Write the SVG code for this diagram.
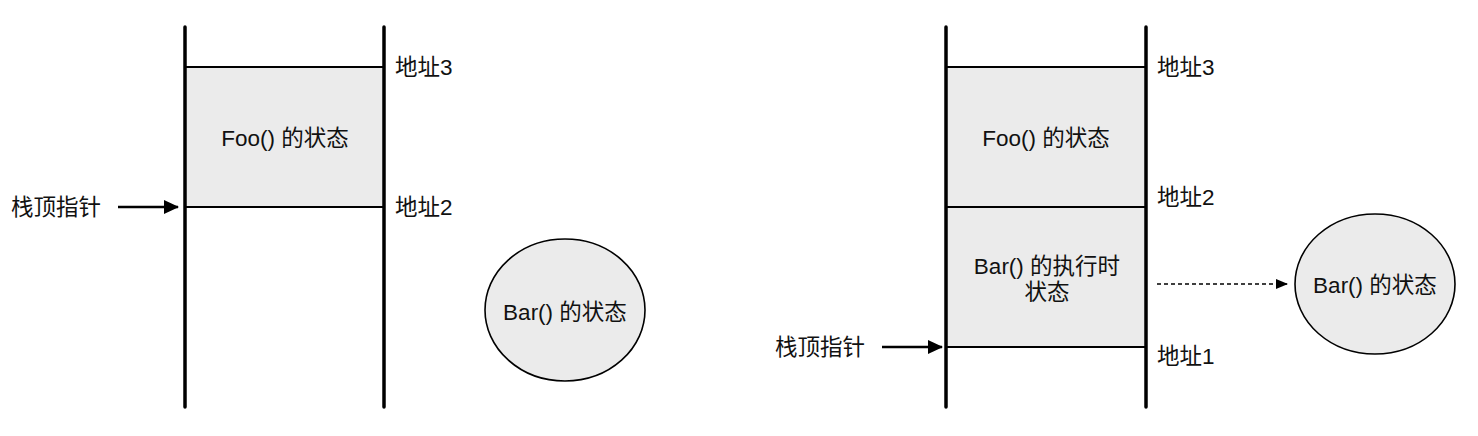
<svg xmlns="http://www.w3.org/2000/svg" width="1478" height="436" viewBox="0 0 1478 436">
<style>
text{font-family:"Liberation Sans","Noto Sans CJK SC",sans-serif;font-size:22.5px;fill:#111;dominant-baseline:central}
.mid{text-anchor:middle}
.cell{fill:#ebebeb;stroke:none}
.wall{stroke:#000;stroke-width:3.5;stroke-linecap:round;fill:none}
.hl{stroke:#000;stroke-width:2;fill:none}
.blob{fill:#ebebeb;stroke:#000;stroke-width:1.6}
.arrow{stroke:#000;stroke-width:2.5;fill:none}
.dash{stroke:#000;stroke-width:1.5;stroke-dasharray:4 3;fill:none}
</style>
<defs>
<marker id="ah" viewBox="0 0 15 14" refX="14" refY="7" markerWidth="15" markerHeight="14" markerUnits="userSpaceOnUse" orient="auto"><path d="M0,0 L15,7 L0,14 Z" fill="#000"/></marker>
<marker id="ah2" viewBox="0 0 12 10" refX="11" refY="5" markerWidth="12" markerHeight="10" markerUnits="userSpaceOnUse" orient="auto"><path d="M0,0 L12,5 L0,10 Z" fill="#000"/></marker>
</defs>
<g id="stack-left">
<rect class="cell" x="185" y="67" width="199" height="140"/>
<line class="hl" x1="185" y1="67" x2="384" y2="67"/>
<line class="hl" x1="185" y1="207" x2="384" y2="207"/>
<line class="wall" x1="185" y1="27" x2="185" y2="407"/>
<line class="wall" x1="384" y1="27" x2="384" y2="407"/>
<text class="mid" x="285" y="138">Foo() 的状态</text>
<text x="395" y="67">地址3</text>
<text x="395" y="207">地址2</text>
</g>
<g id="sp-left"><text x="11" y="207">栈顶指针</text></g>
<g id="bar-left">
<ellipse class="blob" cx="565" cy="310" rx="80" ry="71"/>
<text class="mid" x="565" y="312">Bar() 的状态</text>
</g>
<g id="stack-right">
<rect class="cell" x="946" y="67" width="200" height="280"/>
<line class="hl" x1="946" y1="67" x2="1146" y2="67"/>
<line class="hl" x1="946" y1="207" x2="1146" y2="207"/>
<line class="hl" x1="946" y1="347" x2="1146" y2="347"/>
<line class="wall" x1="946" y1="27" x2="946" y2="407"/>
<line class="wall" x1="1146" y1="27" x2="1146" y2="407"/>
<text class="mid" x="1046" y="138">Foo() 的状态</text>
<text class="mid" x="1047" y="266">Bar() 的执行时</text>
<text class="mid" x="1047" y="292">状态</text>
<text x="1157" y="67">地址3</text>
<text x="1157" y="197">地址2</text>
<text x="1157" y="356">地址1</text>
</g>
<g id="sp-right"><text x="775" y="347">栈顶指针</text></g>
<g id="bar-right">
<ellipse class="blob" cx="1375" cy="284" rx="80" ry="70"/>
<text class="mid" x="1375" y="285">Bar() 的状态</text>
</g>
<g id="connectors">
<line class="arrow" x1="118" y1="207" x2="178" y2="207" marker-end="url(#ah)"/>
<line class="arrow" x1="882" y1="347" x2="942" y2="347" marker-end="url(#ah)"/>
<line class="dash" x1="1157" y1="284" x2="1287" y2="284" marker-end="url(#ah2)"/>
</g>
</svg>
